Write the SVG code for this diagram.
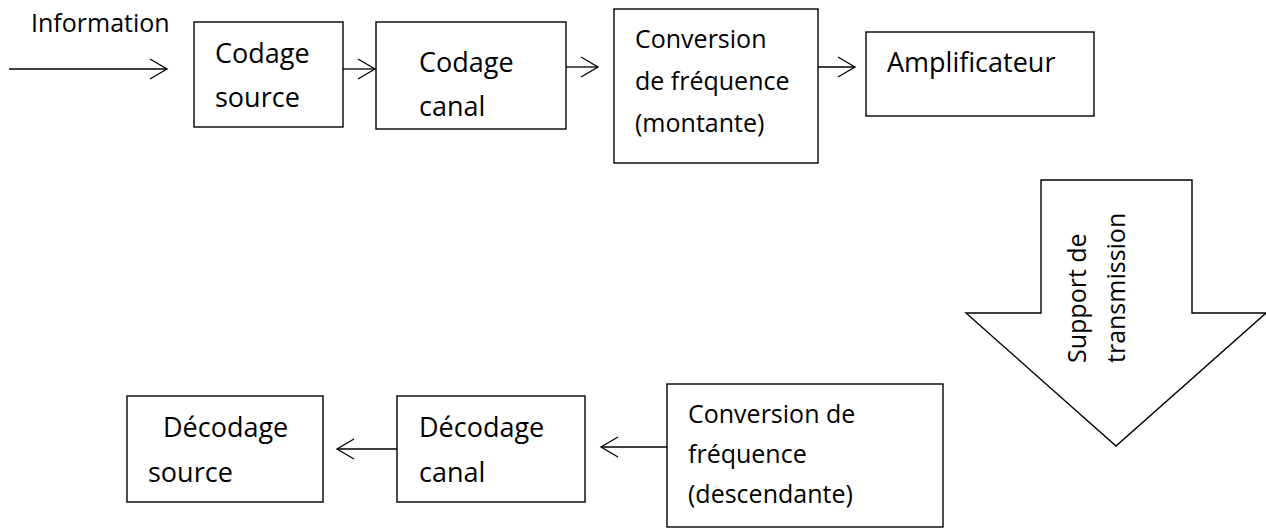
<svg xmlns="http://www.w3.org/2000/svg" width="1266" height="529" viewBox="0 0 1266 529">
  <style>
    .box { fill: #ffffff; stroke: #000000; stroke-width: 1.4; }
    .lbl { font-family: "Open Sans", "Liberation Sans", sans-serif; font-size: 25px; fill: #000000; }
    .big { font-size: 27px; }
    .wire { fill: none; stroke: #000000; stroke-width: 1.3; marker-end: url(#chevron); }
  </style>
  <defs>
    <!-- open "V" arrowhead used by all connectors -->
    <marker id="chevron" markerUnits="userSpaceOnUse" markerWidth="22" markerHeight="24" refX="18" refY="11" orient="auto" overflow="visible">
      <path d="M1,1 L18,11 L1,21" fill="none" stroke="#000000" stroke-width="1.3"/>
    </marker>
  </defs>
  <rect width="1266" height="529" fill="#ffffff"/>

  <!-- input label -->
  <text class="lbl" x="31" y="32">Information</text>

  <!-- connectors -->
  <g id="connectors">
    <line class="wire" x1="9" y1="69" x2="167" y2="69"/>
    <line class="wire" x1="343" y1="69" x2="375" y2="69"/>
    <line class="wire" x1="566" y1="67" x2="598" y2="67"/>
    <line class="wire" x1="818" y1="67" x2="855" y2="67"/>
    <line class="wire" x1="667" y1="447" x2="601" y2="447"/>
    <line class="wire" x1="397" y1="449" x2="337" y2="449"/>
  </g>

  <!-- transmitter chain -->
  <g id="codage-source">
    <rect class="box" x="194" y="22" width="149" height="105"/>
    <text class="lbl big" x="215" y="63">Codage</text>
    <text class="lbl big" x="215" y="107">source</text>
  </g>
  <g id="codage-canal">
    <rect class="box" x="376" y="22" width="190" height="107"/>
    <text class="lbl big" x="419" y="72">Codage</text>
    <text class="lbl big" x="419" y="116">canal</text>
  </g>
  <g id="conversion-montante">
    <rect class="box" x="614" y="9" width="204" height="154"/>
    <text class="lbl" x="635" y="48">Conversion</text>
    <text class="lbl" x="635" y="90">de fréquence</text>
    <text class="lbl" x="635" y="132">(montante)</text>
  </g>
  <g id="amplificateur">
    <rect class="box" x="866" y="32" width="228" height="84"/>
    <text class="lbl big" x="887" y="72">Amplificateur</text>
  </g>

  <!-- transmission medium (block arrow) -->
  <g id="support-transmission">
    <polygon class="box" points="1041,180 1192,180 1192,313 1266,313 1116,446 966,313 1041,313"/>
    <text class="lbl" transform="translate(1086,363) rotate(-90)">Support de</text>
    <text class="lbl" transform="translate(1125,363) rotate(-90)">transmission</text>
  </g>

  <!-- receiver chain -->
  <g id="conversion-descendante">
    <rect class="box" x="667" y="384" width="276" height="143"/>
    <text class="lbl" x="688" y="423">Conversion de</text>
    <text class="lbl" x="688" y="463">fréquence</text>
    <text class="lbl" x="688" y="503">(descendante)</text>
  </g>
  <g id="decodage-canal">
    <rect class="box" x="397" y="396" width="188" height="106"/>
    <text class="lbl big" x="419" y="437">Décodage</text>
    <text class="lbl big" x="419" y="482">canal</text>
  </g>
  <g id="decodage-source">
    <rect class="box" x="127" y="396" width="196" height="106"/>
    <text class="lbl big" x="163" y="437">Décodage</text>
    <text class="lbl big" x="148" y="482">source</text>
  </g>
</svg>
